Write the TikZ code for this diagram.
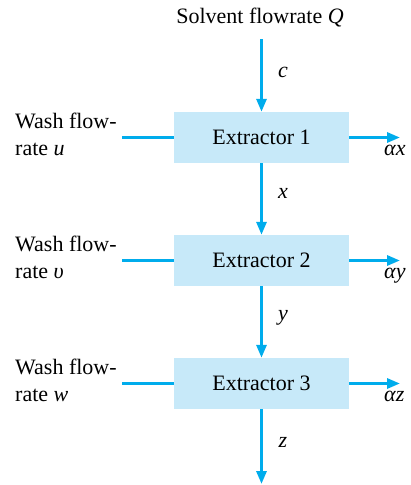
\documentclass[tikz,border=0pt]{standalone}
\usepackage{fontspec}
\setmainfont{Liberation Serif}
\usetikzlibrary{arrows.meta}
\definecolor{flowblue}{RGB}{0,172,236}
\definecolor{boxblue}{RGB}{199,233,249}
\begin{document}
\begin{tikzpicture}[x=1pt,y=-1pt,font=\fontsize{22}{27}\selectfont,
  box/.style={fill=boxblue,draw=none,minimum width=175pt,minimum height=51pt,inner sep=0pt},
  flow/.style={draw=flowblue,line width=3pt,-{Triangle[length=13pt,width=10pt]}},
  feed/.style={draw=flowblue,line width=3pt},
  lbl/.style={inner sep=0pt}]
\useasboundingbox (0,0) rectangle (410,485);
\node[box] (e1) at (261.5,137.5) {Extractor 1};
\node[box] (e2) at (261.5,260.5) {Extractor 2};
\node[box] (e3) at (261.5,383.5) {Extractor 3};
\node[lbl,anchor=base] (q) at (260,23) {Solvent flowrate \textit{Q}};
\coordinate (qs) at (261.5,39);
\coordinate (zend) at (261.5,484);
\draw[flow] (qs) -- (e1.north);
\draw[flow] (e1.south) -- (e2.north);
\draw[flow] (e2.south) -- (e3.north);
\draw[flow] (e3.south) -- (zend);
\node[lbl] (lc) at (283,72) {\textit{c}};
\node[lbl] (lx) at (283,193) {\textit{x}};
\node[lbl] (ly) at (283,318) {\textit{y}};
\node[lbl] (lz) at (283,442) {\textit{z}};
% wash inputs
\coordinate (w1) at (122,137.5);
\coordinate (w2) at (122,260.5);
\coordinate (w3) at (122,383.5);
\draw[feed] (w1) -- (e1.west);
\draw[feed] (w2) -- (e2.west);
\draw[feed] (w3) -- (e3.west);
\node[lbl,anchor=base west] (wa1) at (15,128) {Wash flow-};
\node[lbl,anchor=base west] (wb1) at (15,155) {rate \textit{u}};
\node[lbl,anchor=base west] (wa2) at (15,251) {Wash flow-};
\node[lbl,anchor=base west] (wb2) at (15,278) {rate \textit{υ}};
\node[lbl,anchor=base west] (wa3) at (15,374) {Wash flow-};
\node[lbl,anchor=base west] (wb3) at (15,401) {rate \textit{w}};
% outputs
\coordinate (o1) at (400,137.5);
\coordinate (o2) at (400,260.5);
\coordinate (o3) at (400,383.5);
\draw[flow] (e1.east) -- (o1);
\draw[flow] (e2.east) -- (o2);
\draw[flow] (e3.east) -- (o3);
\node[lbl,anchor=base west] (ox) at (384,155) {\textit{αx}};
\node[lbl,anchor=base west] (oy) at (384,278) {\textit{αy}};
\node[lbl,anchor=base west] (oz) at (384,401) {\textit{αz}};
\end{tikzpicture}
\end{document}
